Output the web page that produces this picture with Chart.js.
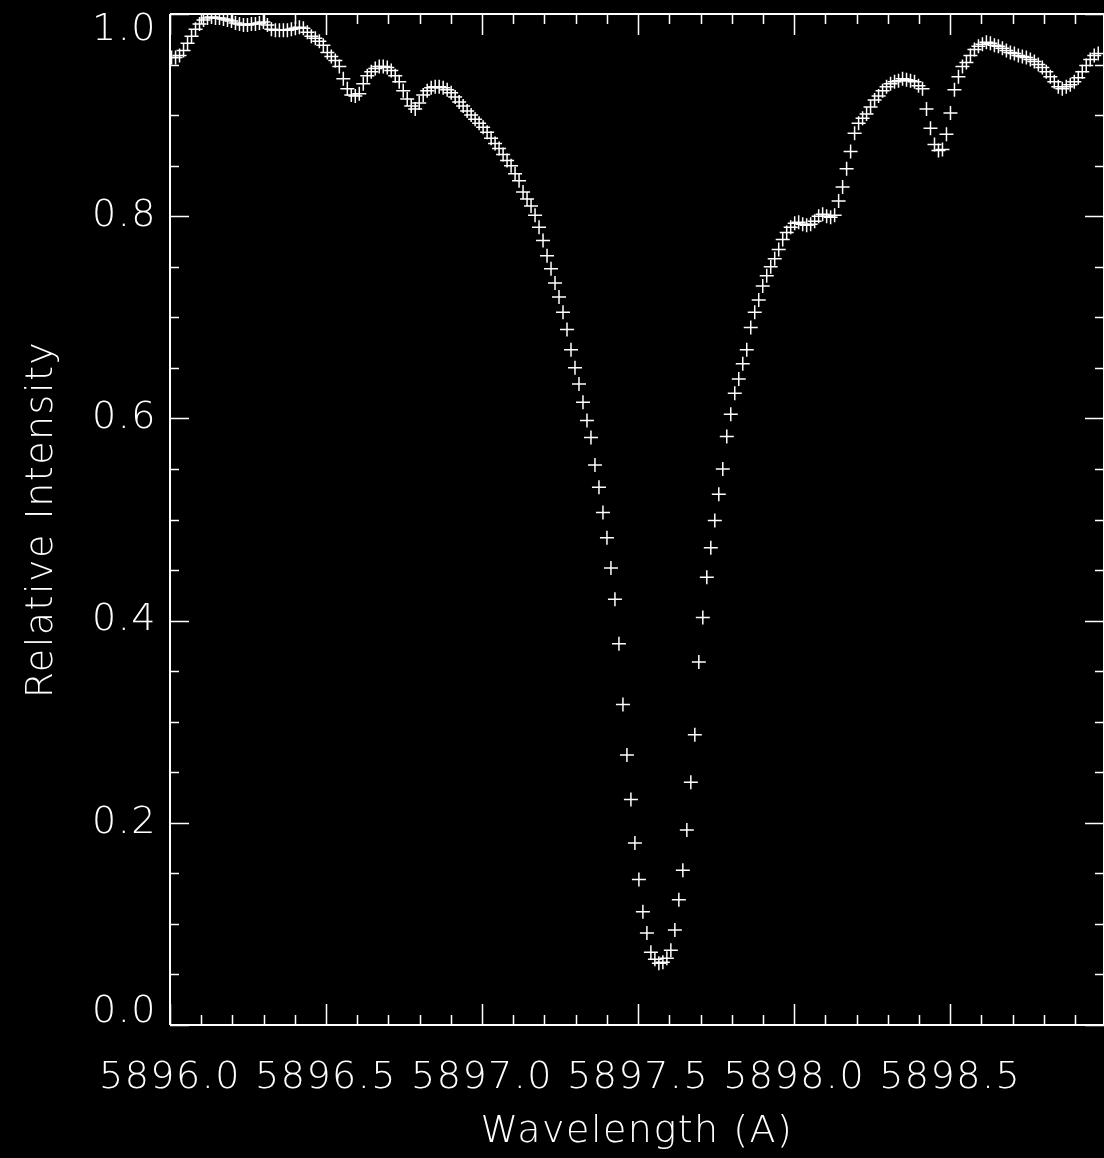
<!DOCTYPE html>
<html>
<head>
<meta charset="utf-8">
<title>Relative Intensity vs Wavelength</title>
<script src="https://cdn.jsdelivr.net/npm/chart.js@4/dist/chart.umd.min.js"></script>
<style>
  html, body { margin: 0; padding: 0; background: #000; }
</style>
</head>
<body>
<canvas id="spectrum" width="1104" height="1158"></canvas>
<script>
// wavelength (A) of each sample
const wavelength = [
  5896.0050, 5896.0178, 5896.0306, 5896.0434, 5896.0562, 5896.0690, 5896.0818, 5896.0946, 5896.1074, 5896.1202,
  5896.1330, 5896.1458, 5896.1586, 5896.1714, 5896.1842, 5896.1970, 5896.2098, 5896.2226, 5896.2354, 5896.2482,
  5896.2610, 5896.2738, 5896.2866, 5896.2994, 5896.3122, 5896.3250, 5896.3378, 5896.3506, 5896.3634, 5896.3762,
  5896.3890, 5896.4018, 5896.4146, 5896.4274, 5896.4402, 5896.4530, 5896.4658, 5896.4786, 5896.4914, 5896.5042,
  5896.5170, 5896.5298, 5896.5426, 5896.5554, 5896.5682, 5896.5810, 5896.5938, 5896.6066, 5896.6194, 5896.6322,
  5896.6450, 5896.6578, 5896.6706, 5896.6834, 5896.6962, 5896.7090, 5896.7218, 5896.7346, 5896.7474, 5896.7602,
  5896.7730, 5896.7858, 5896.7986, 5896.8114, 5896.8242, 5896.8370, 5896.8498, 5896.8626, 5896.8754, 5896.8882,
  5896.9010, 5896.9138, 5896.9266, 5896.9394, 5896.9522, 5896.9650, 5896.9778, 5896.9906, 5897.0034, 5897.0162,
  5897.0290, 5897.0418, 5897.0546, 5897.0674, 5897.0802, 5897.0930, 5897.1058, 5897.1186, 5897.1314, 5897.1442,
  5897.1570, 5897.1698, 5897.1826, 5897.1954, 5897.2082, 5897.2210, 5897.2338, 5897.2466, 5897.2594, 5897.2722,
  5897.2850, 5897.2978, 5897.3106, 5897.3234, 5897.3362, 5897.3490, 5897.3618, 5897.3746, 5897.3874, 5897.4002,
  5897.4130, 5897.4258, 5897.4386, 5897.4514, 5897.4642, 5897.4770, 5897.4898, 5897.5026, 5897.5154, 5897.5282,
  5897.5410, 5897.5538, 5897.5666, 5897.5794, 5897.5922, 5897.6050, 5897.6178, 5897.6306, 5897.6434, 5897.6562,
  5897.6690, 5897.6818, 5897.6946, 5897.7074, 5897.7202, 5897.7330, 5897.7458, 5897.7586, 5897.7714, 5897.7842,
  5897.7970, 5897.8098, 5897.8226, 5897.8354, 5897.8482, 5897.8610, 5897.8738, 5897.8866, 5897.8994, 5897.9122,
  5897.9250, 5897.9378, 5897.9506, 5897.9634, 5897.9762, 5897.9890, 5898.0018, 5898.0146, 5898.0274, 5898.0402,
  5898.0530, 5898.0658, 5898.0786, 5898.0914, 5898.1042, 5898.1170, 5898.1298, 5898.1426, 5898.1554, 5898.1682,
  5898.1810, 5898.1938, 5898.2066, 5898.2194, 5898.2322, 5898.2450, 5898.2578, 5898.2706, 5898.2834, 5898.2962,
  5898.3090, 5898.3218, 5898.3346, 5898.3474, 5898.3602, 5898.3730, 5898.3858, 5898.3986, 5898.4114, 5898.4242,
  5898.4370, 5898.4498, 5898.4626, 5898.4754, 5898.4882, 5898.5010, 5898.5138, 5898.5266, 5898.5394, 5898.5522,
  5898.5650, 5898.5778, 5898.5906, 5898.6034, 5898.6162, 5898.6290, 5898.6418, 5898.6546, 5898.6674, 5898.6802,
  5898.6930, 5898.7058, 5898.7186, 5898.7314, 5898.7442, 5898.7570, 5898.7698, 5898.7826, 5898.7954, 5898.8082,
  5898.8210, 5898.8338, 5898.8466, 5898.8594, 5898.8722, 5898.8850, 5898.8978, 5898.9106, 5898.9234, 5898.9362,
  5898.9490, 5898.9618, 5898.9746
];

// relative intensity
const intensity = [
  0.957, 0.957, 0.959, 0.964, 0.971, 0.978, 0.985, 0.990, 0.994, 0.996,
  0.997, 0.996, 0.996, 0.995, 0.994, 0.993, 0.991, 0.990, 0.989, 0.989,
  0.990, 0.990, 0.991, 0.992, 0.989, 0.985, 0.984, 0.984, 0.984, 0.984,
  0.985, 0.986, 0.987, 0.986, 0.982, 0.978, 0.976, 0.973, 0.969, 0.962,
  0.958, 0.954, 0.948, 0.936, 0.926, 0.920, 0.919, 0.921, 0.931, 0.939,
  0.943, 0.946, 0.948, 0.948, 0.947, 0.944, 0.939, 0.933, 0.924, 0.916,
  0.909, 0.906, 0.912, 0.920, 0.924, 0.927, 0.928, 0.928, 0.927, 0.925,
  0.922, 0.918, 0.913, 0.909, 0.904, 0.900, 0.896, 0.892, 0.888, 0.883,
  0.877, 0.872, 0.867, 0.861, 0.855, 0.850, 0.842, 0.835, 0.824, 0.817,
  0.810, 0.801, 0.789, 0.776, 0.761, 0.748, 0.734, 0.720, 0.705, 0.688,
  0.668, 0.650, 0.634, 0.616, 0.598, 0.581, 0.554, 0.532, 0.507, 0.482,
  0.452, 0.421, 0.377, 0.317, 0.267, 0.223, 0.180, 0.144, 0.112, 0.091,
  0.072, 0.065, 0.061, 0.062, 0.066, 0.074, 0.094, 0.124, 0.153, 0.193,
  0.240, 0.287, 0.359, 0.403, 0.443, 0.472, 0.499, 0.525, 0.550, 0.582,
  0.604, 0.625, 0.639, 0.654, 0.668, 0.690, 0.705, 0.717, 0.731, 0.741,
  0.750, 0.758, 0.767, 0.777, 0.784, 0.789, 0.793, 0.794, 0.792, 0.791,
  0.792, 0.795, 0.800, 0.802, 0.800, 0.799, 0.801, 0.815, 0.829, 0.847,
  0.864, 0.882, 0.892, 0.897, 0.901, 0.908, 0.915, 0.919, 0.924, 0.928,
  0.931, 0.933, 0.934, 0.936, 0.935, 0.934, 0.933, 0.929, 0.926, 0.906,
  0.887, 0.871, 0.865, 0.866, 0.881, 0.902, 0.925, 0.938, 0.948, 0.952,
  0.959, 0.965, 0.968, 0.970, 0.972, 0.971, 0.969, 0.968, 0.966, 0.964,
  0.962, 0.961, 0.959, 0.958, 0.957, 0.955, 0.953, 0.950, 0.947, 0.943,
  0.938, 0.933, 0.928, 0.926, 0.928, 0.930, 0.933, 0.937, 0.943, 0.949,
  0.955, 0.959, 0.961
];

// axis ranges and tick marks
const xRange = [5896.0, 5898.993];
const yRange = [0.0, 1.0];
const xMajorTicks = [5896.0, 5896.5, 5897.0, 5897.5, 5898.0, 5898.5];
const xMinorTicks = [
  5896.1, 5896.2, 5896.3, 5896.4, 5896.6, 5896.7, 5896.8, 5896.9,
  5897.1, 5897.2, 5897.3, 5897.4, 5897.6, 5897.7, 5897.8, 5897.9,
  5898.1, 5898.2, 5898.3, 5898.4, 5898.6, 5898.7, 5898.8, 5898.9
];
const yMajorTicks = [0.0, 0.2, 0.4, 0.6, 0.8, 1.0];
const yMinorTicks = [0.05, 0.1, 0.15, 0.25, 0.3, 0.35, 0.45, 0.5, 0.55, 0.65, 0.7, 0.75, 0.85, 0.9, 0.95];

const FG = '#ffffff';
const labelFont = { family: "'DejaVu Sans', sans-serif", size: 38, weight: '200' };

// frame + inward ticks on all four sides, like the IDL plot
const framePlugin = {
  id: 'frame',
  beforeDraw(chart) {
    chart.ctx.letterSpacing = '1.5px';
  },
  afterDraw(chart) {
    const { ctx, chartArea: a, scales: { x, y } } = chart;
    ctx.save();
    ctx.strokeStyle = FG;
    ctx.lineWidth = 2;
    ctx.beginPath();
    ctx.moveTo(a.left, a.top); ctx.lineTo(a.right, a.top);
    ctx.moveTo(a.left, a.bottom); ctx.lineTo(a.right, a.bottom);
    ctx.moveTo(a.left, a.top); ctx.lineTo(a.left, a.bottom);
    ctx.moveTo(a.right, a.top); ctx.lineTo(a.right, a.bottom);
    ctx.stroke();

    ctx.lineWidth = 1.5;
    ctx.beginPath();
    const xTick = (v, len) => {
      const px = Math.round(x.getPixelForValue(v)) + 0.5;
      ctx.moveTo(px, a.bottom); ctx.lineTo(px, a.bottom - len);
      ctx.moveTo(px, a.top); ctx.lineTo(px, a.top + len);
    };
    const yTick = (v, len) => {
      const py = Math.round(y.getPixelForValue(v)) + 0.5;
      ctx.moveTo(a.left, py); ctx.lineTo(a.left + len, py);
      ctx.moveTo(a.right, py); ctx.lineTo(a.right - len, py);
    };
    xMajorTicks.forEach(v => xTick(v, 21));
    xMinorTicks.forEach(v => xTick(v, 10));
    yMajorTicks.forEach(v => yTick(v, 19));
    yMinorTicks.forEach(v => yTick(v, 9));
    ctx.stroke();
    ctx.restore();
  }
};

const points = wavelength.map((w, i) => ({ x: w, y: intensity[i] }));

// end labels of the y axis sit inside the axis range (0.0 above, 1.0 below its tick)
const yLabel = v => {
  if (v <= yRange[0]) return ['0.0', ''];
  if (v >= yRange[1]) return ['', '1.0'];
  return v.toFixed(1);
};
const yLabelFont = ctx => {
  const v = ctx.tick ? ctx.tick.value : 0.5;
  let lh = 1.2;
  if (v <= yRange[0]) lh = '25px';
  else if (v >= yRange[1]) lh = '32px';
  return Object.assign({}, labelFont, { lineHeight: lh });
};

new Chart(document.getElementById('spectrum'), {
  type: 'scatter',
  data: {
    datasets: [{
      data: points,
      pointStyle: 'cross',
      pointRadius: 7,
      borderColor: FG,
      backgroundColor: FG,
      borderWidth: 1.5,
      showLine: false
    }]
  },
  options: {
    responsive: false,
    devicePixelRatio: 1,
    animation: false,
    events: [],
    layout: { autoPadding: false, padding: { top: 14, right: -1, left: 0, bottom: 0 } },
    plugins: {
      legend: { display: false },
      tooltip: { enabled: false }
    },
    scales: {
      x: {
        type: 'linear',
        min: xRange[0],
        max: xRange[1],
        grid: { display: false, drawTicks: false },
        border: { display: false },
        ticks: {
          stepSize: 0.5,
          includeBounds: false,
          autoSkip: false,
          maxRotation: 0,
          padding: 30,
          color: FG,
          font: labelFont,
          callback: v => v.toFixed(1)
        },
        title: {
          display: true,
          text: 'Wavelength (A)',
          color: FG,
          font: labelFont,
          padding: { top: 0, bottom: 3 }
        },
        afterFit: s => { s.height = 133; s.paddingLeft = 0; s.paddingRight = 0; }
      },
      y: {
        min: yRange[0],
        max: yRange[1],
        grid: { display: false, drawTicks: false },
        border: { display: false },
        ticks: {
          stepSize: 0.2,
          padding: 13,
          color: FG,
          font: yLabelFont,
          callback: yLabel
        },
        title: {
          display: true,
          text: 'Relative Intensity',
          color: FG,
          font: labelFont,
          padding: { top: 19, bottom: 0 }
        },
        afterFit: s => { s.width = 170; s.paddingTop = 0; s.paddingBottom = 0; }
      }
    }
  },
  plugins: [framePlugin]
});
</script>
</body>
</html>
